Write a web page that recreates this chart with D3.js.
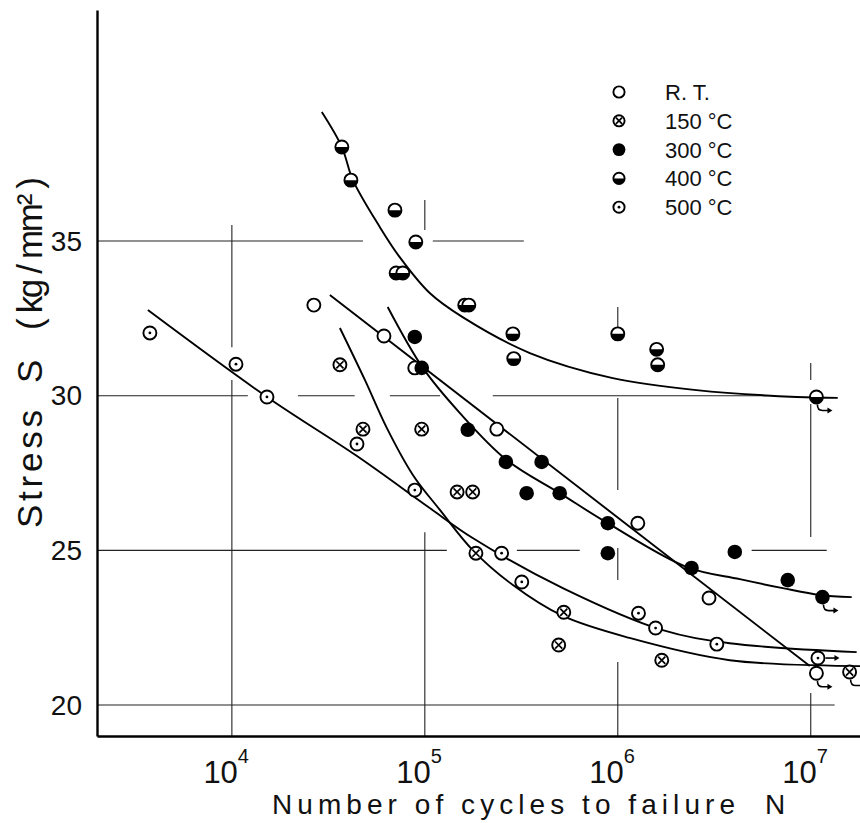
<!DOCTYPE html>
<html>
<head>
<meta charset="utf-8">
<script src="https://cdn.jsdelivr.net/npm/d3@7"></script>
<style>
  body { margin: 0; background: #fff; }
  text { font-family: "Liberation Sans", Arial, sans-serif; fill: #111; }
</style>
</head>
<body>
<div id="chart"></div>
<script>
// cycles to failure N, stress S (kg/mm2); a third value marks a run-out (1 = hook arrow, 2 = arrow to the right)
var rtPoints = [[26600, 32.93], [61400, 31.93], [88700, 30.9], [236000, 28.92], [1270000, 25.88],
  [2970000, 23.46], [10700000, 21.03, 1]];
var t150Points = [[36300, 31.0], [47800, 28.92], [96300, 28.92], [147000, 26.89], [177000, 26.89],
  [184000, 24.91], [525000, 23.0], [494000, 21.94], [1690000, 21.45], [15900000, 21.07, 1]];
var t300Points = [[88700, 31.9], [96400, 30.9], [167000, 28.9], [263000, 27.86], [403000, 27.86],
  [337000, 26.85], [500000, 26.85], [888000, 25.88], [888000, 24.91], [2410000, 24.43],
  [4040000, 24.95], [7600000, 24.04], [11500000, 23.49, 1]];
var t400Points = [[37150, 38.04], [41400, 36.97], [70000, 36.0], [89800, 34.97], [71000, 33.97],
  [76900, 33.97], [161000, 32.93], [169000, 32.93], [286000, 32.0], [289000, 31.2],
  [1000000, 32.0], [1590000, 31.5], [1610000, 31.0], [10700000, 29.96, 1]];
var t500Points = [[3760, 32.03], [10500, 31.02], [15200, 29.96], [44500, 28.44], [88700, 26.95],
  [250000, 24.91], [318000, 23.98], [1280000, 22.97], [1570000, 22.49], [3260000, 21.97],
  [10900000, 21.52, 2]];

// fitted S-N curves
var rtCurve = [[32200, 33.26], [9890000, 21.26]];
var t150Curve = [[36300, 32.19], [48900, 30.51], [63500, 28.96], [86700, 27.44], [120000, 26.30],
  [177000, 25.01], [286000, 23.88], [519000, 22.88], [1150000, 22.17], [3800000, 21.45], [18000000, 21.26]];
var t300Curve = [[64200, 32.87], [97700, 30.90], [152000, 29.44], [266000, 27.92], [500000, 26.85],
  [887000, 25.88], [2280000, 24.46], [4290000, 24.07], [7160000, 23.78], [11100000, 23.56], [16300000, 23.49]];
var t400Curve = [[29250, 39.17], [37150, 38.04], [42400, 36.97], [58500, 35.45], [74100, 34.48],
  [106000, 33.32], [157000, 32.54], [350000, 31.38], [942000, 30.57], [2560000, 30.18],
  [8450000, 29.96], [13800000, 29.93]];
var t500Curve = [[3670, 32.77], [15200, 29.96], [44500, 28.05], [106000, 26.37], [177000, 25.40],
  [519000, 23.78], [1710000, 22.42], [3800000, 22.00], [17300000, 21.71]];

var xTicks = [1e4, 1e5, 1e6, 1e7];
var yTicks = [20, 25, 30, 35];
var seriesKeys = ["rt", "150", "300", "400", "500"];
var legendLabels = ["R. T.", "150 °C", "300 °C", "400 °C", "500 °C"];

// broken grid lines: [stress, from N, to N] and [N, from S, to S]
var hGrid = [[35, 2000, 47800], [35, 110000, 326000], [30, 2000, 12100], [30, 22000, 43300],
  [30, 65900, 120000], [30, 225000, 5920000], [25, 2000, 130000], [25, 300000, 635000],
  [25, 4940000, 12100000], [20, 2000, 13300000]];
var vGrid = [[1e4, 35.52, 31.57], [1e4, 30.51, 19], [1e5, 36.33, 35.36], [1e5, 25.59, 19],
  [1e6, 32.87, 32.19], [1e6, 29.93, 26.95], [1e6, 25.08, 24.04], [1e6, 21.39, 19],
  [1e7, 31.06, 30.51], [1e7, 29.73, 25.43], [1e7, 20.39, 19]];

var svgWidth = 860, svgHeight = 823;
var margin = { top: 10, right: 0, bottom: 87, left: 97 };
var width = svgWidth - margin.left - margin.right;
var height = svgHeight - margin.top - margin.bottom;

var svg = d3.select("#chart")
  .append("svg")
  .attr("width", svgWidth)
  .attr("height", svgHeight);

var chartGroup = svg.append("g")
  .attr("transform", `translate(${margin.left}, ${margin.top})`);

var x = d3.scaleLog().domain([2000, 1.8e7]).range([0, width]);
var y = d3.scaleLinear().domain([19, 42.47]).range([height, 0]);

// grid pieces
chartGroup.selectAll(".hgrid")
  .data(hGrid)
  .enter().append("line")
  .attr("x1", d => x(d[1])).attr("x2", d => x(d[2]))
  .attr("y1", d => y(d[0])).attr("y2", d => y(d[0]))
  .attr("stroke", "#222").attr("stroke-width", 1.1);

chartGroup.selectAll(".vgrid")
  .data(vGrid)
  .enter().append("line")
  .attr("x1", d => x(d[0])).attr("x2", d => x(d[0]))
  .attr("y1", d => y(d[1])).attr("y2", d => y(d[2]))
  .attr("stroke", "#222").attr("stroke-width", 1.1);

// axes
var bottomAxis = d3.axisBottom(x).tickValues(xTicks).tickSize(0).tickSizeOuter(0).tickFormat("");
var leftAxis = d3.axisLeft(y).tickValues(yTicks).tickSize(0).tickSizeOuter(0).tickPadding(15);

var xAxisG = chartGroup.append("g")
  .attr("transform", `translate(0, ${height})`)
  .call(bottomAxis);
var yAxisG = chartGroup.append("g")
  .call(leftAxis);

xAxisG.select(".domain").attr("stroke", "#000").attr("stroke-width", 2.4);
yAxisG.select(".domain").attr("stroke", "#000").attr("stroke-width", 2.4);
yAxisG.selectAll("text")
  .style("font-family", "'Liberation Sans', Arial, sans-serif")
  .style("font-size", "28px")
  .attr("fill", "#111");

// 10^n labels
xTicks.forEach(function (v) {
  var exp = Math.round(Math.log10(v));
  chartGroup.append("text")
    .attr("x", x(v) + 6)
    .attr("y", height + 47)
    .attr("text-anchor", "end")
    .style("font-size", "31px")
    .text("10");
  chartGroup.append("text")
    .attr("x", x(v) + 6)
    .attr("y", height + 27)
    .style("font-size", "20px")
    .text(exp);
});

// curves
var line = d3.line()
  .x(d => x(d[0]))
  .y(d => y(d[1]))
  .curve(d3.curveCatmullRom.alpha(0.5));

[rtCurve, t150Curve, t300Curve, t400Curve, t500Curve].forEach(function (c) {
  chartGroup.append("path")
    .datum(c)
    .attr("d", line)
    .attr("fill", "none")
    .attr("stroke", "#000")
    .attr("stroke-width", 1.9);
});

function marker(sel, kind, r) {
  if (kind === "300") {
    sel.append("circle").attr("r", r + 0.8).attr("fill", "#000");
    return;
  }
  sel.append("circle").attr("r", r)
    .attr("fill", "#fff").attr("stroke", "#000").attr("stroke-width", 1.9);
  if (kind === "400") {
    sel.append("path")
      .attr("d", `M${-r},0 A${r},${r} 0 0 0 ${r},0 Z`)
      .attr("fill", "#000");
  }
  if (kind === "500") {
    sel.append("circle").attr("r", 1.4).attr("fill", "#000");
  }
  if (kind === "150") {
    var k = r * 0.55;
    sel.append("path")
      .attr("d", `M${-k},${-k}L${k},${k}M${-k},${k}L${k},${-k}`)
      .attr("stroke", "#000").attr("stroke-width", 1.7);
  }
}

function runout(sel, type, r) {
  if (type === 1) {
    sel.append("path")
      .attr("d", `M1,${r + 1} q0,6 5,6 h6`)
      .attr("fill", "none").attr("stroke", "#000").attr("stroke-width", 1.6);
    sel.append("path")
      .attr("d", `M16,${r + 7} l-5,-3 v6 Z`)
      .attr("fill", "#000");
  } else if (type === 2) {
    sel.append("path")
      .attr("d", `M${r + 1},0 h10`)
      .attr("fill", "none").attr("stroke", "#000").attr("stroke-width", 1.6);
    sel.append("path")
      .attr("d", `M${r + 15},0 l-5,-3 v6 Z`)
      .attr("fill", "#000");
  }
}

var allPoints = [rtPoints, t150Points, t300Points, t400Points, t500Points];
allPoints.forEach(function (pts, i) {
  var kind = seriesKeys[i];
  chartGroup.selectAll(".pt" + kind)
    .data(pts)
    .enter().append("g")
    .attr("transform", d => `translate(${x(d[0])}, ${y(d[1])})`)
    .each(function (d) {
      var g = d3.select(this);
      if (d[2]) runout(g, d[2], 6.5);
      marker(g, kind, 6.5);
    });
});

// legend
var legend = svg.append("g").attr("transform", "translate(619, 92)");
legendLabels.forEach(function (lab, i) {
  var g = legend.append("g").attr("transform", `translate(0, ${i * 28.8})`);
  marker(g, seriesKeys[i], 5.6);
  g.append("text")
    .attr("x", 46)
    .attr("y", 8)
    .style("font-size", "22px")
    .text(lab);
});

// axis titles
svg.append("text")
  .attr("x", 272).attr("y", 814)
  .attr("textLength", 463)
  .style("font-size", "28px")
  .text("Number of cycles to failure");
svg.append("text")
  .attr("x", 765).attr("y", 814)
  .style("font-size", "28px")
  .text("N");

svg.append("text")
  .attr("transform", "translate(42, 528) rotate(-90)")
  .attr("textLength", 118)
  .style("font-size", "35px")
  .text("Stress");
svg.append("text")
  .attr("transform", "translate(42, 383) rotate(-90)")
  .style("font-size", "35px")
  .text("S");
svg.append("text")
  .attr("transform", "translate(42, 330) rotate(-90)")
  .attr("textLength", 153)
  .style("font-size", "35px")
  .text("( kg / mm² )");
</script>
</body>
</html>
